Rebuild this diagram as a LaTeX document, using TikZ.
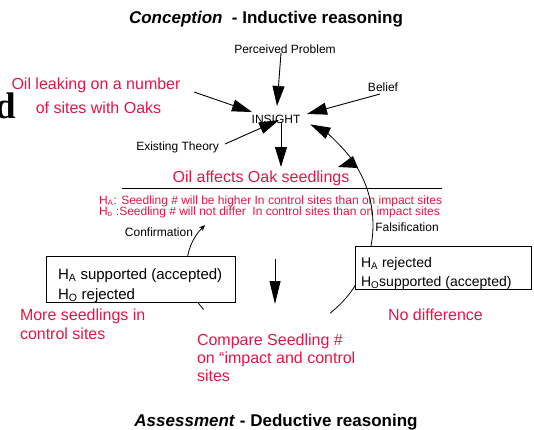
\documentclass[tikz,border=0pt]{standalone}
\usepackage{fontspec}
\setmainfont{Liberation Sans}
\newfontfamily\dserif{Liberation Serif}
\usetikzlibrary{arrows.meta,calc}
\definecolor{oilred}{RGB}{226,22,70}
\begin{document}
\begin{tikzpicture}[x=1pt,y=-1pt,
  every node/.style={inner sep=0pt, outer sep=0pt},
  lbl/.style={font=\fontsize{12}{14}\selectfont},
  redbig/.style={font=\fontsize{16}{19}\selectfont, text=oilred},
  redhyp/.style={font=\fontsize{12}{13}\selectfont, text=oilred},
  heading/.style={font=\fontsize{17}{20}\selectfont\bfseries},
  boxtxtL/.style={font=\fontsize{15}{18}\selectfont, anchor=base west},
  boxtxtR/.style={font=\fontsize{14}{17}\selectfont, anchor=base west},
  bigarrow/.style={line width=0.9pt, -{Triangle[length=20pt,width=12pt]}},
  looparc/.style={line width=0.8pt},
  hbox/.style={draw, line width=0.9pt, fill=white, anchor=north west},
]
\useasboundingbox (0,0) rectangle (534,429);

% headings
\node[heading, anchor=base] (title) at (266,23) {\textit{Conception}~~- Inductive reasoning};
\node[heading, anchor=base] (assess) at (276,426) {\textit{Assessment} - Deductive reasoning};

% stray glyph at the left margin
\node[anchor=base west, font=\fontsize{37}{40}\selectfont\dserif\bfseries] (dd) at (-5,118) {d};

% inputs to the insight
\node[lbl, anchor=base] (pp) at (285,53) {Perceived Problem};
\node[lbl, anchor=base] (ins) at (276,123) {INSIGHT};
\node[lbl, anchor=base] (bel) at (383,91) {Belief};
\node[lbl, anchor=base east] (ext) at (219,150) {Existing Theory};
\node[redbig, anchor=base] (leakA) at (96,89) {Oil leaking on a number};
\node[redbig, anchor=base] (leakB) at (98.5,113) {of sites with Oaks};

% hypothesis block
\node[redbig, anchor=base] (aff) at (261,182) {Oil affects Oak seedlings};
\coordinate (ruleL) at (122,188);
\coordinate (ruleR) at (442,188);
\draw[line width=1pt] (ruleL) -- (ruleR);
\node[redhyp, anchor=base west] (ha) at (99,204) {H\textsubscript{A}: Seedling \# will be higher In control sites than on impact sites};
\node[redhyp, anchor=base west] (ho) at (99,215) {H\textsubscript{o} :Seedling \# will not differ\ \ In control sites than on impact sites};
\node[lbl, anchor=base] (conf) at (159,236) {Confirmation};
\node[lbl, anchor=base] (fals) at (407,231) {Falsification};

% arrow end points
\coordinate (ppTail) at (281,53);   \coordinate (ppTip) at (277,106);
\coordinate (leakTail) at (194,92); \coordinate (leakTip) at (252,112);
\coordinate (belTail) at (380,94);  \coordinate (belTip) at (307,114);
\coordinate (extTail) at (225,144); \coordinate (extTip) at (279,120);
\coordinate (insTail) at (281,122); \coordinate (affTip) at (281,167);
\coordinate (cmpTail) at (275,259); \coordinate (cmpTip) at (275,304);

\draw[bigarrow] (ppTail) -- (ppTip);
\draw[bigarrow] (leakTail) -- (leakTip);
\draw[bigarrow] (belTail) -- (belTip);
\draw[bigarrow] (extTail) -- (extTip);
\draw[bigarrow] (insTail) -- (affTip);
\draw[line width=0.9pt, -{Triangle[length=23pt,width=11pt]}] (cmpTail) -- (cmpTip);

% feedback loops
\coordinate (cL) at (247,268);
\coordinate (cR) at (261,225);
\draw[looparc, -{Stealth[length=6pt,width=5pt]}]
  ($(cL)+(136.3:60)$) arc[start angle=136.3, end angle=225.7, radius=60];
\draw[looparc, -{Triangle[length=20pt,width=12pt]}]
  ($(cR)+(51.9:112)$) arc[start angle=51.9, end angle=-63.9, radius=112];
% half arrowhead part way along the falsification loop
\coordinate (midTip) at (353,156);
\coordinate (midBarb) at (338,167);
\coordinate (midBase) at (358,168);
\fill (midTip) -- (midBarb) -- (midBase) -- cycle;

% outcome boxes
\node[hbox, minimum width=189pt, minimum height=46pt] (boxL) at (46,256) {};
\node[hbox, minimum width=176pt, minimum height=43pt] (boxR) at (355,246) {};
\node[boxtxtL] (supA) at (58,279) {H\textsubscript{A} supported (accepted)};
\node[boxtxtL] (rejO) at (58,299) {H\textsubscript{O} rejected};
\node[boxtxtR] (rejA) at (361,267) {H\textsubscript{A} rejected};
\node[boxtxtR] (supO) at (361,286) {H\textsubscript{O}supported (accepted)};

% outcomes and comparison
\node[redbig, anchor=base west] (moreA) at (20,320) {More seedlings in};
\node[redbig, anchor=base west] (moreB) at (20,339) {control sites};
\node[redbig, anchor=base west] (nodiff) at (388,320) {No difference};
\node[redbig, anchor=base west] (cmpA) at (197,345) {Compare Seedling \#};
\node[redbig, anchor=base west] (cmpB) at (197,363) {on “impact and control};
\node[redbig, anchor=base west] (cmpC) at (197,381) {sites};
\end{tikzpicture}
\end{document}
